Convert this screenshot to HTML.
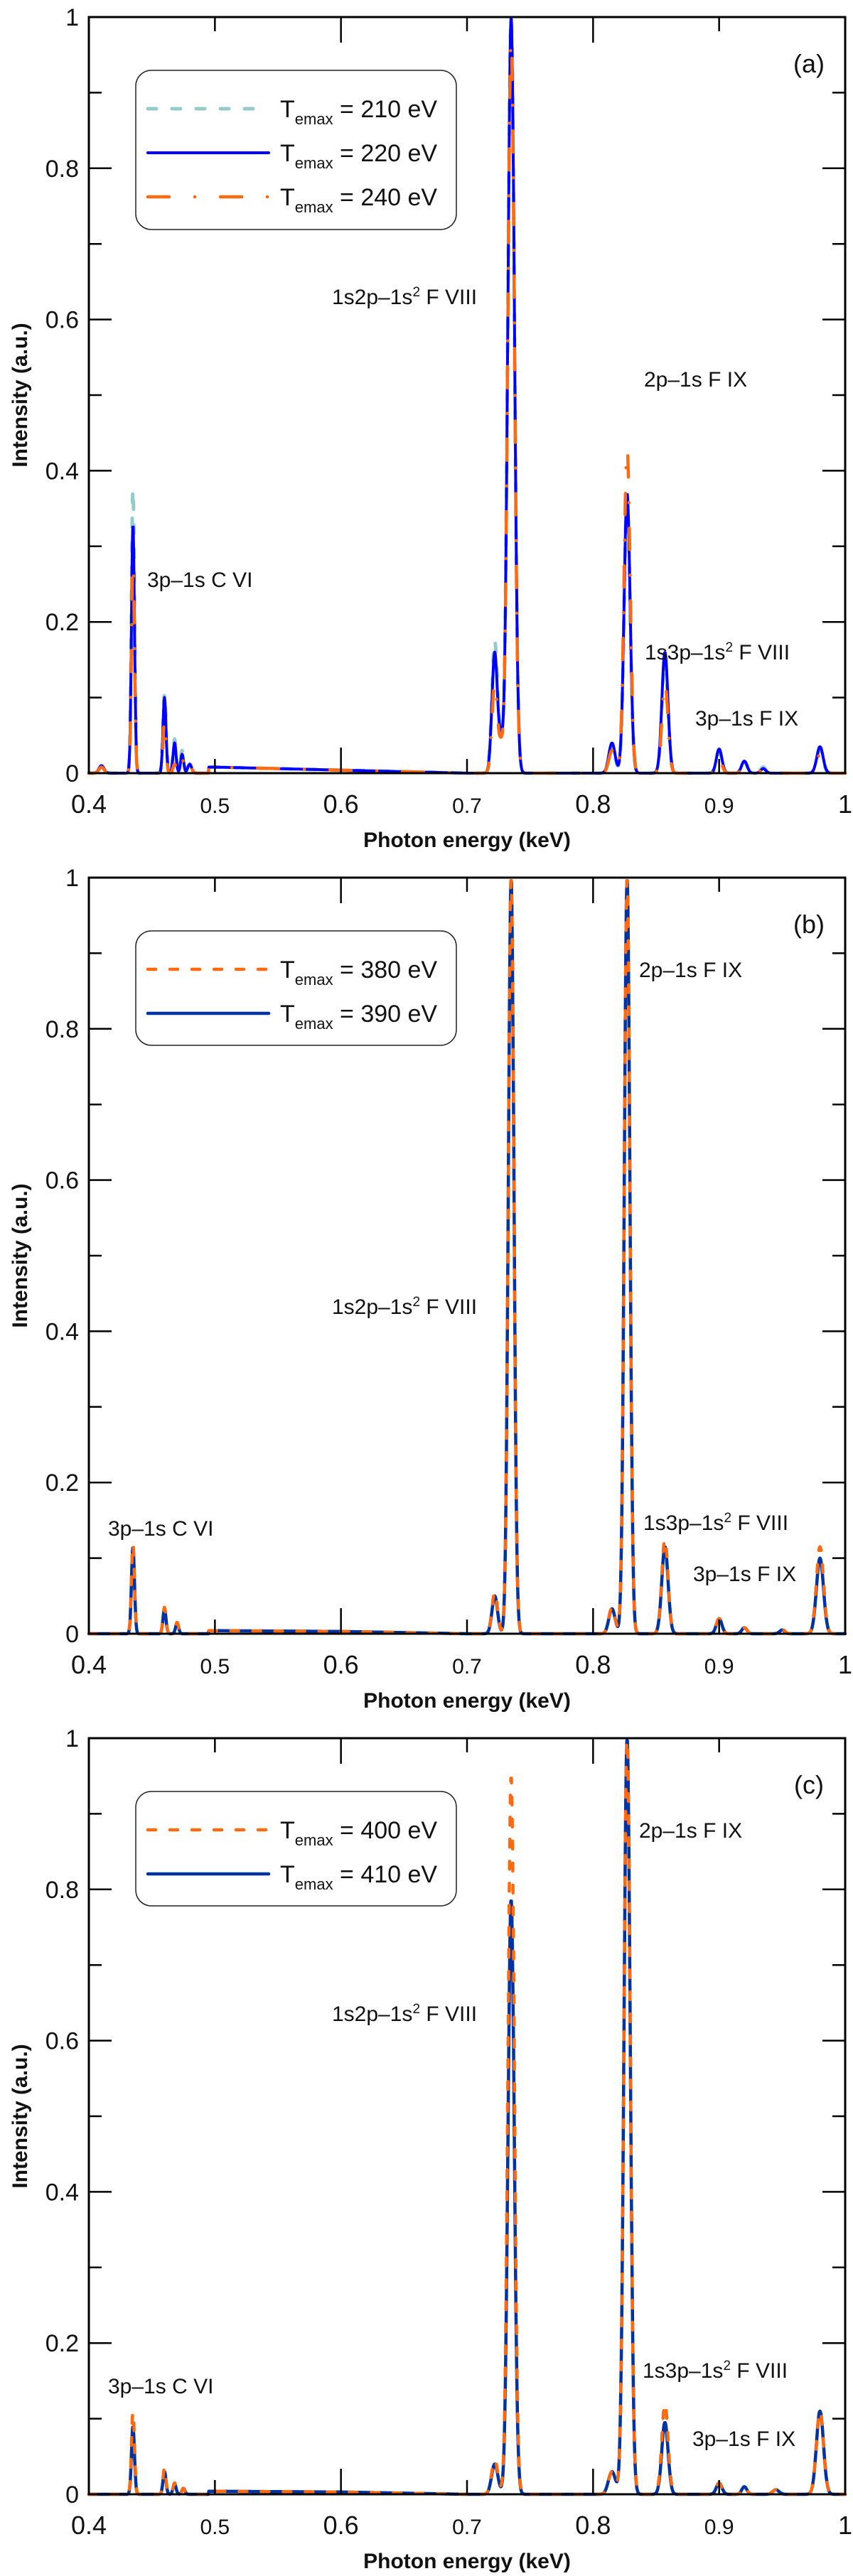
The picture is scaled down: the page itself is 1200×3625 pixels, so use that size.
<!DOCTYPE html>
<html><head><meta charset="utf-8">
<style>
html,body{margin:0;padding:0;background:#fff;}
svg{display:block;font-family:"Liberation Sans",sans-serif;}
</style></head>
<body>
<svg id="fig" width="1200" height="3625" viewBox="0 0 1200 3625" xmlns="http://www.w3.org/2000/svg"></svg>
<script>
// ---- data (peak centres in keV, peak heights, peak widths sigma in keV) ----
const xTicks = [0.4,0.5,0.6,0.7,0.8,0.9,1];
const xTickLabels = ["0.4","0.5","0.6","0.7","0.8","0.9","1"];
const yTicks = [0,0.2,0.4,0.6,0.8,1];
const yTickLabels = ["0","0.2","0.4","0.6","0.8","1"];

// Panel (a)
const aCenters = [0.41,0.435,0.46,0.468,0.474,0.48,0.722,0.727,0.735,0.815,0.827,0.857,0.9,0.92,0.935,0.98];
const aWidths  = [0.002,0.0012,0.0012,0.0012,0.0012,0.0015,0.0022,0.0015,0.0026,0.0025,0.0024,0.0024,0.0022,0.0022,0.002,0.0025];
const a210 = [0.008,0.38,0.105,0.045,0.03,0.015,0.175,0.04,1.0,0.035,0.36,0.15,0.028,0.015,0.008,0.03];
const a220 = [0.010,0.33,0.10,0.04,0.025,0.012,0.16,0.035,1.0,0.04,0.37,0.16,0.032,0.016,0.006,0.035];
const a240 = [0.008,0.28,0.07,0.012,0.02,0.012,0.12,0.03,0.97,0.03,0.43,0.12,0.02,0.008,0.006,0.025];
const aBase = [0.008,0.004,0.0];   // continuum 0.5 / 0.6 / 0.7

// Panel (b)
const bCenters = [0.435,0.46,0.47,0.722,0.735,0.815,0.827,0.857,0.9,0.92,0.95,0.98];
const bWidths  = [0.0012,0.0012,0.0012,0.0022,0.0022,0.0025,0.0022,0.0025,0.0022,0.002,0.002,0.0028];
const b380 = [0.12,0.035,0.015,0.055,1.0,0.035,1.0,0.125,0.02,0.008,0.006,0.115];
const b390 = [0.115,0.033,0.014,0.05,1.0,0.033,1.0,0.115,0.02,0.008,0.005,0.10];
const bBase = [0.004,0.003,0.0];

// Panel (c)
const cCenters = [0.435,0.46,0.468,0.475,0.722,0.735,0.815,0.827,0.857,0.9,0.92,0.945,0.98];
const cWidths  = [0.0012,0.0012,0.0012,0.0012,0.0025,0.0025,0.0028,0.0025,0.0025,0.0022,0.002,0.0025,0.0028];
const c400 = [0.11,0.035,0.015,0.008,0.045,0.95,0.03,1.0,0.12,0.015,0.01,0.006,0.11];
const c410 = [0.09,0.03,0.014,0.008,0.04,0.787,0.03,1.0,0.095,0.015,0.01,0.006,0.11];
const cBase = [0.004,0.003,0.0];

// ---- layout ----
const NS = "http://www.w3.org/2000/svg";
const svg = document.getElementById('fig');
const L = 125, R = 1189, PH = 1064, TOP0 = 24, STEP = 1211;
function mk(tag, attrs, parent){const e=document.createElementNS(NS,tag);for(const k in attrs)e.setAttribute(k,attrs[k]);(parent||svg).appendChild(e);return e;}
function xs(v){return L + (v-0.4)/0.6*(R-L);}

function spectrum(x, centers, widths, heights, base){
  let y = 0;
  if (x>=0.495 && x<=0.71){
    const t = (x-0.5)/0.1;
    if (t<1) y += base[0] + (base[1]-base[0])*Math.max(0,t);
    else y += base[1] + (base[2]-base[1])*Math.min(1,t-1);
  }
  for(let i=0;i<centers.length;i++){const d=(x-centers[i])/widths[i];y+=heights[i]*Math.exp(-0.5*d*d);}
  return y;
}

function panel(idx, label, series, annots, legendEntries){
  const top = TOP0 + idx*STEP, bot = top + PH;
  const ys = v => bot - v*PH;
  const g = mk('g',{});
  
  
  series.forEach(s=>{
    let d='';
    for(let x=0.4;x<=1.0001;x+=0.0004){
      const v = Math.min(spectrum(x,s.centers,s.widths,s.heights,s.base),1.0);
      d += (d?'L':'M')+xs(x).toFixed(1)+','+ys(v).toFixed(1);
    }
    const p = mk('path',{d:d,fill:'none',stroke:s.color,'stroke-width':s.w,'stroke-dasharray':s.dash||'none','stroke-linecap':'round','stroke-linejoin':'round'},g);
    
    
  });
  const fr = mk('rect',{x:L,y:top,width:R-L,height:PH,fill:'none',stroke:'#000','stroke-width':3},g);
  
  
  xTicks.forEach((t,i)=>{
    const major = (i%2===0), len = major?36:20, x = xs(t);
    mk('line',{x1:x,y1:bot,x2:x,y2:bot-len,stroke:'#000','stroke-width':2.5},g);
    mk('line',{x1:x,y1:top,x2:x,y2:top+len,stroke:'#000','stroke-width':2.5},g);
    const tx = mk('text',{x:x,y:bot+56,'text-anchor':'middle','font-size':major?36:30,fill:'#111'},g);
    tx.textContent = xTickLabels[i];
    
    
  });
  for(let k=0;k<=10;k++){
    const v=k/10, y=ys(v), major=(k%2===0), len=major?32:18;
    mk('line',{x1:L,y1:y,x2:L+len,y2:y,stroke:'#000','stroke-width':2.5},g);
    mk('line',{x1:R,y1:y,x2:R-len,y2:y,stroke:'#000','stroke-width':2.5},g);
  }
  yTicks.forEach((t,i)=>{
    const ty = mk('text',{x:L-14,y:ys(t)+12,'text-anchor':'end','font-size':34,fill:'#111'},g);
    ty.textContent = yTickLabels[i];
    
    
  });
  const xt = mk('text',{x:(L+R)/2,y:bot+104,'text-anchor':'middle','font-size':30,'font-weight':'bold',fill:'#111'},g);
  xt.textContent='Photon energy (keV)';
  
  
  const ytt = mk('text',{x:0,y:0,'text-anchor':'middle','font-size':30,'font-weight':'bold',fill:'#111',transform:'translate(38,'+((top+bot)/2)+') rotate(-90)'},g);
  ytt.textContent='Intensity (a.u.)';
  
  
  const pl = mk('text',{x:1138,y:top+78,'text-anchor':'middle','font-size':36,fill:'#111'},g);
  pl.textContent='('+label+')';
  
  
  annots.forEach(a=>{
    const t = mk('text',{x:a.x,y:top+a.dy,'font-size':30,fill:'#111'},g);
    if(a.sup){
      t.appendChild(document.createTextNode(a.pre));
      const s = mk('tspan',{'font-size':19,dy:-11},t); s.textContent='2';
      const r = mk('tspan',{dy:11},t); r.textContent=a.post;
    } else t.textContent=a.text;
    
    
  });
  const n = legendEntries.length;
  const lh = n===3?224:161;
  const lg = mk('g',{},g);
  
  
  mk('rect',{x:191,y:top+75,width:451,height:lh,rx:22,fill:'#fff',stroke:'#222','stroke-width':1.5},lg);
  legendEntries.forEach((e,i)=>{
    const cy = top+75+54+i*62;
    const ln = mk('line',{x1:208,y1:cy,x2:378,y2:cy,stroke:e.color,'stroke-width':e.w,'stroke-dasharray':e.dash||'none','stroke-linecap':'round'},lg);
    
    
    const t = mk('text',{x:394,y:cy+12,'font-size':34,fill:'#111'},lg);
    t.appendChild(document.createTextNode('T'));
    const sb = mk('tspan',{'font-size':22,dy:10},t); sb.textContent='emax';
    const rs = mk('tspan',{dy:-10},t); rs.textContent=' = '+e.label;
    
    
  });
}

panel(0,'a',[
  {name:'210ev',centers:aCenters,widths:aWidths,heights:a210,base:aBase,color:'#96CBCB',w:5,dash:'12 22'},
  {name:'220ev',centers:aCenters,widths:aWidths,heights:a220,base:aBase,color:'#0000FF',w:4},
  {name:'240ev',centers:aCenters,widths:aWidths,heights:a240,base:aBase,color:'#FF6A10',w:4.5,dash:'30 36 0.1 36'}
],[
  {x:207,dy:802,text:'3p–1s C VI'},
  {x:467,dy:404,sup:true,pre:'1s2p–1s',post:' F VIII'},
  {x:906,dy:520,text:'2p–1s F IX'},
  {x:907,dy:904,sup:true,pre:'1s3p–1s',post:' F VIII'},
  {x:978,dy:997,text:'3p–1s F IX'}
],[
  {label:'210 eV',color:'#96CBCB',w:5,dash:'12 22'},
  {label:'220 eV',color:'#0000FF',w:4},
  {label:'240 eV',color:'#FF6A10',w:4.5,dash:'30 36 0.1 36'}
]);

panel(1,'b',[
  {name:'390ev',centers:bCenters,widths:bWidths,heights:b390,base:bBase,color:'#0033A0',w:4.5},
  {name:'380ev',centers:bCenters,widths:bWidths,heights:b380,base:bBase,color:'#FF6A10',w:4.5,dash:'11 20'}
],[
  {x:467,dy:614,sup:true,pre:'1s2p–1s',post:' F VIII'},
  {x:899,dy:140,text:'2p–1s F IX'},
  {x:905,dy:918,sup:true,pre:'1s3p–1s',post:' F VIII'},
  {x:975,dy:990,text:'3p–1s F IX'},
  {x:152,dy:926,text:'3p–1s C VI'}
],[
  {label:'380 eV',color:'#FF6A10',w:4.5,dash:'11 20'},
  {label:'390 eV',color:'#0033A0',w:4.5}
]);

panel(2,'c',[
  {name:'410ev',centers:cCenters,widths:cWidths,heights:c410,base:cBase,color:'#0033A0',w:4.5},
  {name:'400ev',centers:cCenters,widths:cWidths,heights:c400,base:cBase,color:'#FF6A10',w:4.5,dash:'11 20'}
],[
  {x:467,dy:398,sup:true,pre:'1s2p–1s',post:' F VIII'},
  {x:899,dy:140,text:'2p–1s F IX'},
  {x:904,dy:900,sup:true,pre:'1s3p–1s',post:' F VIII'},
  {x:974,dy:996,text:'3p–1s F IX'},
  {x:152,dy:922,text:'3p–1s C VI'}
],[
  {label:'400 eV',color:'#FF6A10',w:4.5,dash:'11 20'},
  {label:'410 eV',color:'#0033A0',w:4.5}
]);
</script>
</body></html>
